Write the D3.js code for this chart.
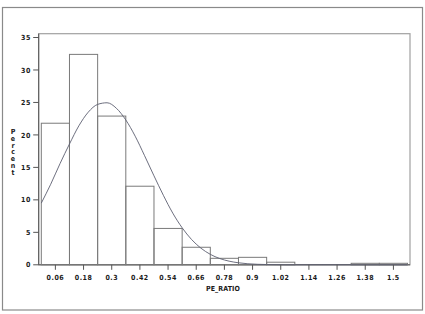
<!DOCTYPE html>
<html>
<head>
<meta charset="utf-8">
<script src="https://cdn.jsdelivr.net/npm/d3@7"></script>
<style>
  html, body { margin: 0; padding: 0; background: #fff; }
  svg { display: block; }
  text { font-family: "DejaVu Sans Condensed", "Liberation Sans Narrow", "DejaVu Sans", sans-serif; font-weight: bold; fill: #1a1a1a; }
</style>
</head>
<body>
<svg id="chart" width="425" height="314"></svg>
<script>
// ---- data ----
const binStarts = [0, 0.12, 0.24, 0.36, 0.48, 0.60, 0.72, 0.84, 0.96, 1.08, 1.20, 1.32, 1.44];
const binWidth = 0.12;
const percents = [21.8, 32.4, 22.9, 12.1, 5.6, 2.7, 1.0, 1.15, 0.4, 0, 0, 0.23, 0.23];
const xTicks = [0.06, 0.18, 0.3, 0.42, 0.54, 0.66, 0.78, 0.9, 1.02, 1.14, 1.26, 1.38, 1.5];
const xTickLabels = ["0.06", "0.18", "0.3", "0.42", "0.54", "0.66", "0.78", "0.9", "1.02", "1.14", "1.26", "1.38", "1.5"];
const yTicks = [0, 5, 10, 15, 20, 25, 30, 35];
// fitted normal curve
const curveX = [0, 0.04, 0.08, 0.12, 0.16, 0.20, 0.24, 0.28, 0.32, 0.36, 0.40, 0.44, 0.48, 0.52, 0.56, 0.60, 0.64, 0.68, 0.72, 0.76, 0.80, 0.84, 0.88, 0.92, 0.96, 1.00, 1.04, 1.20, 1.40, 1.56];
const curveY = [9.5, 12.4, 15.6, 18.6, 21.4, 23.5, 24.7, 24.95, 24.1, 22.3, 19.8, 16.8, 13.7, 10.7, 7.96, 5.7, 3.9, 2.56, 1.61, 0.97, 0.56, 0.31, 0.16, 0.08, 0.04, 0.02, 0, 0, 0, 0];
const xLabel = "PE_RATIO";
const yLabel = "Percent";

// ---- drawing ----
const svg = d3.select("#chart");
const x = d3.scaleLinear().domain([0, 1.56]).range([41.3, 407.5]);
const y = d3.scaleLinear().domain([0, 35]).range([264.8, 37.5]);

// outer frame
svg.append("rect").attr("x", 2.5).attr("y", 7.5).attr("width", 420).attr("height", 302.5)
  .attr("fill", "none").attr("stroke", "#8a8a8a").attr("stroke-width", 1.2);

// plot frame
const fL = 38.7, fR = 410, fT = 33.7, fB = y(0);
svg.append("rect").attr("x", fL).attr("y", fT).attr("width", fR - fL).attr("height", fB - fT)
  .attr("fill", "none").attr("stroke", "#a0a0a0").attr("stroke-width", 1.2);
svg.append("line").attr("x1", fL).attr("x2", fL).attr("y1", fT).attr("y2", fB).attr("stroke", "#555");
svg.append("line").attr("x1", fL).attr("x2", fR).attr("y1", fB).attr("y2", fB).attr("stroke", "#555");

// bars
svg.append("g").selectAll("rect").data(binStarts.map((s, i) => ({s, v: percents[i]})).filter(d => d.v > 0))
  .join("rect")
  .attr("x", d => x(d.s))
  .attr("y", d => y(d.v))
  .attr("width", d => x(d.s + binWidth) - x(d.s))
  .attr("height", d => y(0) - y(d.v))
  .attr("fill", "none").attr("stroke", "#7a7a7a").attr("stroke-width", 1);

// curve
const line = d3.line().x((d, i) => x(curveX[i])).y(d => y(d)).curve(d3.curveMonotoneX);
svg.append("path").attr("d", line(curveY)).attr("fill", "none")
  .attr("stroke", "#5c5f70").attr("stroke-width", 0.9);

// y axis ticks
const yAxis = svg.append("g");
yTicks.forEach(t => {
  yAxis.append("line").attr("x1", fL - 5.5).attr("x2", fL).attr("y1", y(t)).attr("y2", y(t)).attr("stroke", "#555");
  yAxis.append("text").attr("x", 30.7).attr("y", y(t) + 2.6).attr("text-anchor", "end")
    .attr("font-size", 7).attr("letter-spacing", 0.4).text(t);
});

// x axis ticks
const xAxis = svg.append("g");
xTicks.forEach((t, i) => {
  xAxis.append("line").attr("x1", x(t)).attr("x2", x(t)).attr("y1", fB).attr("y2", fB + 5).attr("stroke", "#555");
  xAxis.append("text").attr("x", x(t)).attr("y", 280).attr("text-anchor", "middle")
    .attr("font-size", 7).attr("letter-spacing", 0.5).text(xTickLabels[i]);
});

// axis labels
svg.append("text").attr("x", 223).attr("y", 291).attr("text-anchor", "middle")
  .attr("font-size", 7).attr("letter-spacing", 0.1).text(xLabel);
yLabel.split("").forEach((ch, i) => {
  svg.append("text").attr("x", 13).attr("y", 134 + i * 6.8).attr("text-anchor", "middle")
    .attr("font-size", 7).text(ch);
});
</script>
</body>
</html>
